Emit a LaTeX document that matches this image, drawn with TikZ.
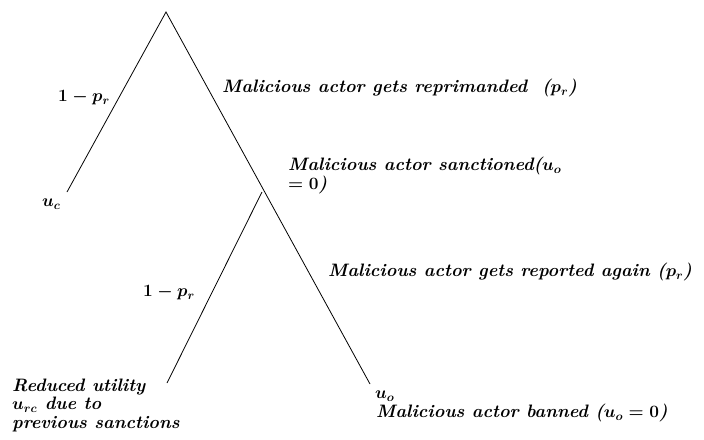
\documentclass[tikz,border=0pt]{standalone}
\usepackage{tikz}

\tikzset{
    branchline/.style={line width=0.8pt},
    lbl/.style={inner sep=0pt, font=\fontsize{18}{18.5}\selectfont\bfseries\itshape\boldmath},
}

\begin{document}
\begin{tikzpicture}[x=1pt,y=-1pt]
    \useasboundingbox (0,0) rectangle (704,439);
    % the tree
    \coordinate (top) at (166,12);
    \coordinate (uc) at (67,192);
    \coordinate (branch) at (262,192);
    \coordinate (urc) at (167,383);
    \coordinate (uo) at (370,384);
    \draw[branchline] (uc) -- (top) -- (uo);
    \draw[branchline] (branch) -- (urc);
    % labels
    \node[lbl,anchor=west] (notrep) at (58,98) {$1-p_r$};
    \node[lbl,anchor=west] (ucl) at (42,204) {$u_c$};
    \node[lbl,anchor=west] (rep) at (222,88) {Malicious actor gets reprimanded \ ($p_r$)};
    \node[lbl,anchor=north west,align=left] (sanc) at (288,157) {Malicious actor sanctioned($u_o$\\$=0$)};
    \node[lbl,anchor=west] (notrep2) at (143,293) {$1-p_r$};
    \node[lbl,anchor=west] (rep2) at (328,272) {Malicious actor gets reported again ($p_r$)};
    \node[lbl,anchor=north west,align=left] (red) at (12,378.5) {Reduced utility\\$u_{rc}$ due to\\previous sanctions};
    \node[lbl,anchor=west] (uol) at (375,396) {$u_o$};
    \node[lbl,anchor=west] (ban) at (376,413) {Malicious actor banned ($u_o=0$)};
\end{tikzpicture}
\end{document}
